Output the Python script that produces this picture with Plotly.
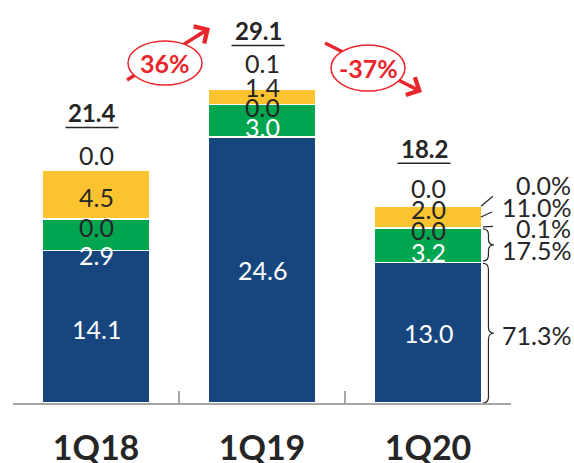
import plotly.graph_objects as go

# ---------------- data ----------------
categories = ["1Q18", "1Q19", "1Q20"]
blue = [14.1, 24.6, 13.0]
green_a = [2.9, 3.0, 3.2]
green_b = [0.0, 0.0, 0.0]
yellow_a = [4.5, 1.4, 2.0]
yellow_b = [0.0, 0.1, 0.0]
totals = [21.4, 29.1, 18.2]
growth = ["36%", "-37%"]
shares_1q20 = ["71.3%", "17.5%", "0.1%", "11.0%", "0.0%"]  # blue, green_a, green_b, yellow_a, yellow_b

# ---------------- layout constants ----------------
W, H = 574, 463
ML, MR, MT, MB = 13, 63, 3, 60
PLOT_W = W - ML - MR
PLOT_H = H - MT - MB
YMAX = 37.0
PXU = PLOT_H / YMAX
CAT_PX = PLOT_W / len(categories)
BARGAP = 0.35
HALF = (1 - BARGAP) / 2

BLUE, GREEN, YELLOW = "#17467F", "#00A54F", "#FBC32F"
DARK, RED, GRAY = "#262626", "#E8262B", "#A6A6A6"
FONT = "Lato"


def px2x(px):
    return -0.5 + (px - ML) / CAT_PX


def px2y(py):
    return (H - MB - py) / PXU


def px2paper_x(px):
    return (px - ML) / PLOT_W


def dx(px):
    return px / CAT_PX


def dy(px):
    return px / PXU


series = [
    ("blue", blue, BLUE, "white", [-2, 0, 0]),
    ("green_a", green_a, GREEN, "white", [-20, -6, -7]),
    ("green_b", green_b, GREEN, DARK, [-8, -2, -2]),
    ("yellow_a", yellow_a, YELLOW, DARK, [-2, 10, 8]),
    ("yellow_b", yellow_b, YELLOW, DARK, [16, 26, 18]),
]

fig = go.Figure()
annotations = []
shapes = []

bottoms = [0.0] * len(categories)
seg_info = {}
for name, vals, color, tcolor, nudges in series:
    fig.add_trace(go.Bar(
        x=categories, y=vals, name=name,
        marker=dict(color=color, line=dict(color="white", width=1.5)),
        hoverinfo="skip",
    ))
    seg_info[name] = []
    for i, v in enumerate(vals):
        b = bottoms[i]
        seg_info[name].append((b, b + v))
        annotations.append(dict(
            x=i, y=b + v / 2, xref="x", yref="y", text=f"{v:.1f}",
            showarrow=False, yshift=nudges[i],
            font=dict(family=FONT, size=25, color=tcolor),
        ))
        bottoms[i] = b + v

# totals with underline
for i, t in enumerate(totals):
    top = bottoms[i]
    annotations.append(dict(
        x=i, y=top, xref="x", yref="y", text=f"{t:.1f}", showarrow=False,
        yshift=58, xshift=-4,
        font=dict(family=FONT, size=24, color=DARK, weight="bold"),
    ))
    shapes.append(dict(
        type="line", xref="x", yref="y",
        x0=i - dx(4) - dx(26.5), x1=i - dx(4) + dx(26.5),
        y0=top + dy(43), y1=top + dy(43),
        line=dict(color=DARK, width=1.5),
    ))

# shares for last category
last = len(categories) - 1
share_nudges = [-2, -5, 0, 10, 21]
for (name, vals, _, _, _), txt, nd in zip(series, shares_1q20, share_nudges):
    b, tp = seg_info[name][last]
    annotations.append(dict(
        x=px2paper_x(573), y=(b + tp) / 2, xref="paper", yref="y", xanchor="right",
        text=txt, showarrow=False, yshift=nd,
        font=dict(family=FONT, size=25, color=DARK),
    ))

xr = last + HALF
yb_top = seg_info["yellow_b"][last][1]
ya_b, ya_t = seg_info["yellow_a"][last]
ga_b, ga_t = seg_info["green_a"][last]
bl_b, bl_t = seg_info["blue"][last]
leader = dict(color=DARK, width=1.2)
shapes.append(dict(type="line", xref="x", yref="y", x0=xr - dx(1), y0=yb_top,
                   x1=xr + dx(11), y1=yb_top + dy(10), line=leader))
shapes.append(dict(type="line", xref="x", yref="y", x0=xr - dx(1), y0=(ya_b + ya_t) / 2,
                   x1=xr + dx(10), y1=(ya_b + ya_t) / 2 + dy(5), line=leader))
shapes.append(dict(type="line", xref="x", yref="y", x0=xr + dx(1), y0=ga_t + dy(1),
                   x1=xr + dx(11), y1=ga_t + dy(1.5), line=leader))


def brace(ytop, ybot):
    x0 = xr + dx(1)
    w = dx(11)
    xm = x0 + w / 2
    r = dy(6)
    ym = (ytop + ybot) / 2
    p = (f"M {x0},{ytop} Q {xm},{ytop} {xm},{ytop - r} "
         f"L {xm},{ym + r} Q {xm},{ym} {x0 + w},{ym} "
         f"Q {xm},{ym} {xm},{ym - r} L {xm},{ybot + r} "
         f"Q {xm},{ybot} {x0},{ybot}")
    return dict(type="path", xref="x", yref="y", path=p, line=leader)


shapes.append(brace(ga_t - dy(1), ga_b + dy(1.5)))
shapes.append(brace(bl_t - dy(1), bl_b))

# growth ellipses + arrows (pixel geometry between bars)
growth_geo = [
    # ellipse centre, rx, ry, arrow start, arrow tip
    ((165, 63), 37, 22, (127, 80), (210, 28)),
    ((368, 68), 37, 23, (325, 43), (422, 92)),
]
for txt, ((cx, cy), rx, ry, (sx, sy), (tx, ty)) in zip(growth, growth_geo):
    L = ((tx - sx) ** 2 + (ty - sy) ** 2) ** 0.5
    ux, uy = (tx - sx) / L, (ty - sy) / L
    ex, ey = tx - 10 * ux, ty - 10 * uy
    shapes.append(dict(type="line", xref="x", yref="y",
                       x0=px2x(sx), y0=px2y(sy), x1=px2x(ex), y1=px2y(ey),
                       line=dict(color=RED, width=3.5)))
    shapes.append(dict(type="circle", xref="x", yref="y",
                       x0=px2x(cx - rx), x1=px2x(cx + rx),
                       y0=px2y(cy + ry), y1=px2y(cy - ry),
                       fillcolor="white", line=dict(color=RED, width=1.5)))
    annotations.append(dict(
        x=px2x(tx), y=px2y(ty), xref="x", yref="y", text="",
        showarrow=True, arrowhead=4, arrowsize=1.1, arrowwidth=3.5,
        arrowcolor=RED, ax=-16 * ux, ay=-16 * uy, standoff=0,
    ))
    annotations.append(dict(
        x=px2x(cx), y=px2y(cy), xref="x", yref="y", text=txt,
        showarrow=False, font=dict(family=FONT, size=25, color=RED, weight="bold"),
    ))

fig.update_layout(
    width=W, height=H,
    margin=dict(l=ML, r=MR, t=MT, b=MB, pad=0, autoexpand=False),
    barmode="stack", bargap=BARGAP,
    showlegend=False,
    plot_bgcolor="white", paper_bgcolor="white",
    annotations=annotations, shapes=shapes,
    xaxis=dict(
        type="category", range=[-0.5, len(categories) - 0.5],
        showline=True, linecolor=GRAY, linewidth=1.5,
        ticks="inside", tickson="boundaries", ticklen=12,
        tickcolor=GRAY, tickwidth=1.5, showgrid=False, automargin=False,
        tickfont=dict(family=FONT, size=34, color=DARK, weight="bold"),
        ticklabelstandoff=14, fixedrange=True,
    ),
    yaxis=dict(range=[0, YMAX], visible=False, showgrid=False, fixedrange=True,
               automargin=False),
)

fig.write_html("out.html", config={"displayModeBar": False},
               post_script="document.body.style.margin='0';document.body.style.padding='0';")
